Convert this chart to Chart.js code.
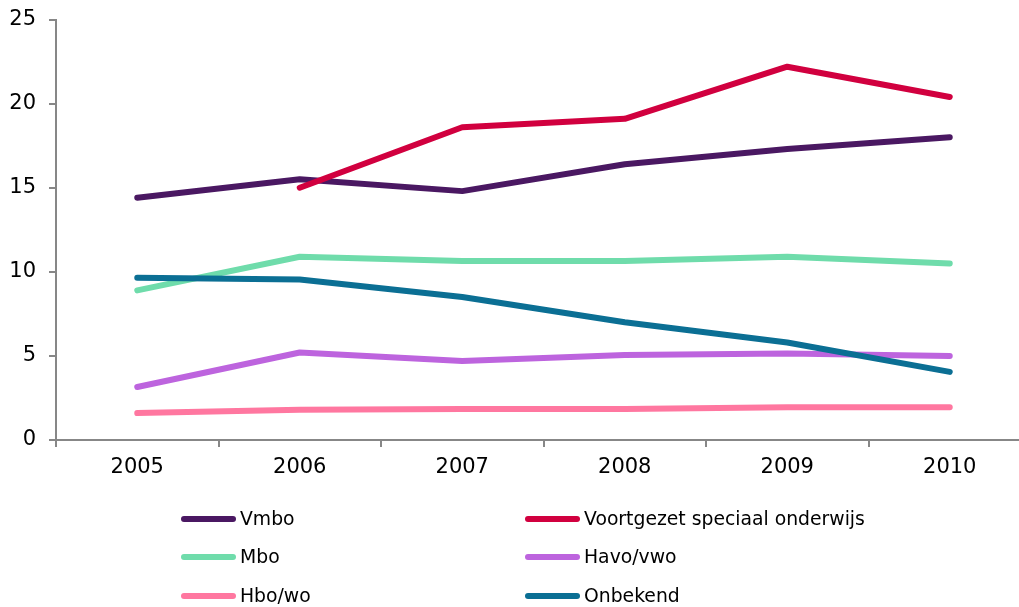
<!DOCTYPE html>
<html>
<head>
<meta charset="utf-8">
<script src="https://cdn.jsdelivr.net/npm/chart.js@4.4.1/dist/chart.umd.min.js"></script>
<style>
    html, body { margin: 0; padding: 0; background: #fff; overflow: hidden; }
    body { width: 1019px; height: 607px; position: relative; }
    #wrap { position: absolute; left: 0; top: -6px; width: 1040px; height: 495px; }
    #legenda { position: absolute; left: 0; top: 0; width: 1019px; height: 607px; pointer-events: none;
               font-family: "DejaVu Sans", Verdana, sans-serif; font-size: 18.8px; color: #000; }
    .item { position: absolute; height: 24px; line-height: 24px; white-space: nowrap; }
    .item .linha { position: absolute; left: 0; top: 9px; width: 55px; height: 6px; border-radius: 3px; }
    .item span { position: absolute; left: 59px; top: 0; }
</style>
</head>
<body>
<div id="wrap"><canvas id="myChart"></canvas></div>
<div id="legenda"></div>
<script>
const anos = ["2005", "2006", "2007", "2008", "2009", "2010"];
const vmbo = [14.4, 15.5, 14.8, 16.4, 17.3, 18.0];
const vso = [null, 15.0, 18.6, 19.1, 22.2, 20.4];
const mbo = [8.9, 10.9, 10.65, 10.65, 10.9, 10.5];
const havoVwo = [3.15, 5.2, 4.7, 5.05, 5.15, 5.0];
const hboWo = [1.6, 1.8, 1.85, 1.85, 1.95, 1.95];
const onbekend = [9.65, 9.55, 8.5, 7.0, 5.8, 4.05];

const series = [
    { label: "Vmbo", data: vmbo, cor: "#4a1862" },
    { label: "Voortgezet speciaal onderwijs", data: vso, cor: "#d1003f" },
    { label: "Mbo", data: mbo, cor: "#6fdcab" },
    { label: "Havo/vwo", data: havoVwo, cor: "#bd64de" },
    { label: "Hbo/wo", data: hboWo, cor: "#ff77a0" },
    { label: "Onbekend", data: onbekend, cor: "#0b6f94" }
];

const fonte = { family: "'DejaVu Sans', Verdana, sans-serif", size: 21 };
const corEixo = "#878787";

const chart = new Chart("myChart", {
    type: "line",
    data: {
        labels: anos,
        datasets: series.map((s, i) => ({
            label: s.label,
            data: s.data,
            borderColor: s.cor,
            backgroundColor: s.cor,
            borderWidth: 6,
            borderCapStyle: "round",
            borderJoinStyle: "round",
            pointRadius: 0,
            tension: 0,
            order: series.length - i
        }))
    },
    options: {
        responsive: true,
        maintainAspectRatio: false,
        animation: false,
        layout: { padding: { top: 9, right: 9, left: 0, bottom: 0 } },
        plugins: {
            legend: { display: false },
            tooltip: { enabled: false }
        },
        scales: {
            x: {
                offset: true,
                grid: { offset: true, drawOnChartArea: false, drawTicks: true, tickLength: 7, color: corEixo, lineWidth: 2 },
                border: { color: corEixo, width: 2 },
                ticks: { color: "#000", font: fonte, padding: 8, maxRotation: 0 },
                afterFit: scale => { scale.height = 49; }
            },
            y: {
                min: 0,
                max: 25,
                grid: { drawOnChartArea: false, drawTicks: true, tickLength: 7, color: corEixo, lineWidth: 2 },
                border: { color: corEixo, width: 2 },
                ticks: { stepSize: 5, color: "#000", font: fonte, padding: 13 },
                afterFit: scale => { scale.width = 56; }
            }
        }
    }
});

// legenda em duas colunas, como no original
const legenda = document.getElementById("legenda");
const colunas = [181, 525];
const linhas = [507, 545, 584];
chart.data.datasets.forEach((ds, i) => {
    const item = document.createElement("div");
    item.className = "item";
    item.style.left = colunas[i % 2] + "px";
    item.style.top = linhas[Math.floor(i / 2)] + "px";
    const linha = document.createElement("div");
    linha.className = "linha";
    linha.style.background = ds.borderColor;
    const texto = document.createElement("span");
    texto.textContent = ds.label;
    item.appendChild(linha);
    item.appendChild(texto);
    legenda.appendChild(item);
});
</script>
</body>
</html>
